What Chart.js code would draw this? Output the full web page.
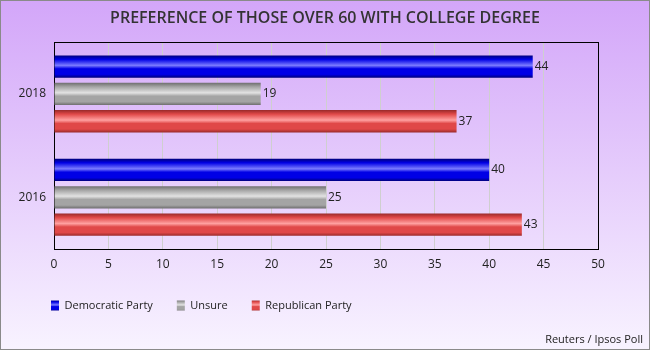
<!DOCTYPE html>
<html>
<head>
<meta charset="utf-8">
<script src="https://cdn.jsdelivr.net/npm/chart.js@4"></script>
<style>
  html, body { margin: 0; padding: 0; background: #fff; }
  #wrap { width: 650px; height: 350px; }
</style>
</head>
<body>
<div id="wrap"><canvas id="chart" width="650" height="350"></canvas></div>
<script>
const years = ["2018", "2016"];
const democratic = [44, 40];
const unsure = [19, 25];
const republican = [37, 43];
const xTicks = [0, 5, 10, 15, 20, 25, 30, 35, 40, 45, 50];
const titleText = "PREFERENCE OF THOSE OVER 60 WITH COLLEGE DEGREE";
const sourceText = "Reuters / Ipsos Poll";

// gradient stops per series (edge, body, highlight)
const shades = [
    ["#00007a", "#0000e6", "#7b7bff"],
    ["#6e6e6e", "#a4a4a4", "#e2e2e2"],
    ["#9a2a2a", "#e04848", "#ffa0a0"]
];

function barGradient(ctx, top, h, s) {
    const g = ctx.createLinearGradient(0, top, 0, top + h);
    g.addColorStop(0, s[0]);
    g.addColorStop(0.18, s[1]);
    g.addColorStop(0.45, s[2]);
    g.addColorStop(0.6, s[1]);
    g.addColorStop(0.85, s[1]);
    g.addColorStop(1, s[0]);
    return g;
}

const backdrop = {
    id: "backdrop",
    afterLayout(chart) {
        // legend sits under the plot, not at the canvas edge
        const lg = chart.legend;
        if (lg) { lg.left += 21; lg.right += 21; }
    },
    beforeDraw(chart) {
        const ctx = chart.ctx;
        const g = ctx.createLinearGradient(0, 0, 0, chart.height);
        g.addColorStop(0, "#d3a6f9");
        g.addColorStop(1, "#f8f3ff");
        ctx.save();
        ctx.fillStyle = g;
        ctx.fillRect(0, 0, chart.width, chart.height);
        ctx.strokeStyle = "#8a8a8a";
        ctx.lineWidth = 1;
        ctx.strokeRect(0.5, 0.5, chart.width - 1, chart.height - 1);
        ctx.restore();

        // legend swatches get the same glossy look
        const lg = chart.legend;
        if (lg && lg.legendHitBoxes) {
            lg.legendItems.forEach((item, i) => {
                const hb = lg.legendHitBoxes[i];
                if (!hb) return;
                item.fillStyle = barGradient(ctx, hb.top, 11, shades[item.datasetIndex]);
            });
        }
    },
    beforeDatasetsDraw(chart) {
        const ctx = chart.ctx;
        const a = chart.chartArea;
        ctx.save();
        ctx.strokeStyle = "#000";
        ctx.lineWidth = 1;
        ctx.strokeRect(Math.round(a.left) + 0.5, Math.round(a.top) + 0.5,
            Math.round(a.right - a.left), Math.round(a.bottom - a.top));
        ctx.restore();
        chart.data.datasets.forEach((ds, i) => {
            chart.getDatasetMeta(i).data.forEach(el => {
                const top = el.y - el.height / 2;
                el.options = Object.assign({}, el.options, {
                    backgroundColor: barGradient(ctx, top, el.height, shades[i])
                });
            });
        });
    },
    afterDatasetsDraw(chart) {
        const ctx = chart.ctx;
        ctx.save();
        ctx.font = "12px 'Open Sans'";
        ctx.fillStyle = "#222";
        ctx.textBaseline = "middle";
        ctx.textAlign = "left";
        chart.data.datasets.forEach((ds, i) => {
            chart.getDatasetMeta(i).data.forEach((el, j) => {
                ctx.fillText(ds.data[j], el.x + 2, el.y);
            });
        });
        ctx.restore();
    },
    afterDraw(chart) {
        const ctx = chart.ctx;
        ctx.save();
        ctx.font = "11px 'Open Sans'";
        ctx.fillStyle = "#222";
        ctx.textAlign = "right";
        ctx.textBaseline = "middle";
        ctx.fillText(sourceText, chart.width - 7, chart.height - 10);
        ctx.restore();
    }
};

new Chart(document.getElementById("chart"), {
    type: "bar",
    data: {
        labels: years,
        datasets: [
            { label: "Democratic Party", data: democratic, backgroundColor: "#0000e6" },
            { label: "Unsure", data: unsure, backgroundColor: "#a4a4a4" },
            { label: "Republican Party", data: republican, backgroundColor: "#e04848" }
        ]
    },
    options: {
        indexAxis: "y",
        responsive: false,
        animation: false,
        datasets: {
            bar: { categoryPercentage: 0.794, barPercentage: 0.815, borderWidth: 0 }
        },
        layout: { padding: { left: 6, right: 6, top: 0, bottom: 29 } },
        plugins: {
            title: {
                display: true,
                text: titleText,
                color: "#333",
                font: { family: "'Open Sans'", size: 16, weight: "600" },
                padding: { top: 9, bottom: 14 }
            },
            legend: {
                position: "bottom",
                align: "start",
                labels: {
                    color: "#222",
                    font: { family: "'Open Sans'", size: 11 },
                    boxWidth: 8,
                    boxHeight: 10,
                    padding: 24
                }
            },
            tooltip: { enabled: false }
        },
        scales: {
            x: {
                min: 0,
                max: 50,
                afterBuildTicks: scale => { scale.ticks = xTicks.map(v => ({ value: v })); },
                afterFit: scale => { scale.height = 27; },
                grid: { color: "#cfcfcf", drawTicks: false },
                border: { display: false },
                ticks: { color: "#222", padding: 8, font: { family: "'Open Sans'", size: 12 } }
            },
            y: {
                afterFit: scale => { scale.width = 48; },
                grid: { display: false, drawTicks: false },
                border: { display: false },
                ticks: { color: "#222", padding: 8, font: { family: "'Open Sans'", size: 12 } }
            },
            y2: {
                type: "linear",
                position: "right",
                afterFit: scale => { scale.width = 46; },
                grid: { display: false, drawTicks: false },
                border: { display: false },
                ticks: { display: false }
            }
        }
    },
    plugins: [backdrop]
});
</script>
</body>
</html>
